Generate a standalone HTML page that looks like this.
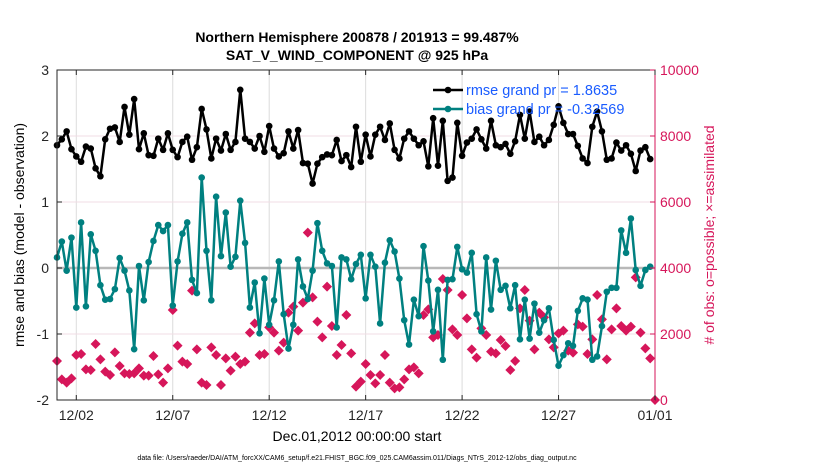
<!DOCTYPE html>
<html><head><meta charset="utf-8"><style>
html,body{margin:0;padding:0;background:#fff;}
svg{display:block;font-family:"Liberation Sans",Arial,sans-serif;}
</style></head><body>
<svg id="chart" width="830" height="470" viewBox="0 0 830 470" xmlns="http://www.w3.org/2000/svg">
<text x="357" y="42" text-anchor="middle" font-size="14" font-weight="bold">Northern Hemisphere 200878 / 201913 = 99.487%</text>
<text x="357" y="60" text-anchor="middle" font-size="14" font-weight="bold">SAT_V_WIND_COMPONENT @ 925 hPa</text>
<text x="357" y="441" text-anchor="middle" font-size="14">Dec.01,2012 00:00:00 start</text>
<text x="357" y="460" text-anchor="middle" font-size="7">data file: /Users/raeder/DAI/ATM_forcXX/CAM6_setup/f.e21.FHIST_BGC.f09_025.CAM6assim.011/Diags_NTrS_2012-12/obs_diag_output.nc</text>
<text transform="translate(24,235) rotate(-90)" text-anchor="middle" font-size="14">rmse and bias (model - observation)</text>
<text transform="translate(714,235) rotate(-90)" text-anchor="middle" font-size="14" fill="#d6165a"># of obs: o=possible; ×=assimilated</text>
<g id="grid"></g><g id="marks"></g><g id="axes"></g>
</svg>
<script>
const rmse=[1.86,1.95,2.07,1.80,1.69,1.61,1.84,1.81,1.51,1.39,1.95,2.11,2.13,1.91,2.44,2.02,2.56,1.80,2.04,1.71,1.70,1.96,1.79,2.04,1.79,1.68,1.91,1.99,1.64,1.83,2.41,2.10,1.66,1.96,1.78,2.03,1.79,1.91,2.70,1.96,1.91,1.81,2.00,1.76,2.15,1.81,1.69,1.74,2.07,1.81,2.09,1.59,1.58,1.28,1.58,1.68,1.72,1.71,1.94,1.62,1.71,1.53,2.14,
1.61,2.02,1.69,2.02,2.14,1.94,2.19,1.79,1.66,1.96,2.07,1.96,1.86,1.92,1.54,2.27,1.55,2.23,1.32,1.37,2.20,1.70,1.90,1.96,2.10,1.95,1.81,2.23,1.86,1.83,1.88,1.73,1.92,2.32,1.96,2.37,1.91,1.99,1.86,1.94,2.17,2.45,2.20,2.03,2.03,1.85,1.66,1.59,2.14,2.37,2.07,1.64,1.66,1.90,1.78,1.86,1.73,1.47,1.78,1.83,1.65];
const bias=[0.16,0.40,-0.04,0.46,-0.60,0.69,-0.58,0.51,0.26,-0.26,-0.48,-0.47,-0.32,0.15,-0.04,-0.34,-1.23,0.03,-0.49,0.09,0.41,0.65,0.56,0.65,-0.57,0.10,0.52,0.69,-0.18,-0.38,1.37,0.26,-0.49,1.08,0.18,0.84,0.02,0.17,1.02,0.38,-0.60,-0.22,-0.99,-0.16,-0.86,-0.49,0.10,-0.70,-1.22,-0.86,0.13,-0.28,-0.47,-0.04,0.68,0.26,0.07,0.03,-0.90,0.16,0.13,-0.17,0.06,
0.20,-0.46,0.20,0.02,-0.84,0.08,0.42,0.25,-0.16,-0.79,-1.16,-0.48,-0.73,0.33,-0.19,-0.96,-0.33,-1.39,-0.18,-0.17,0.32,-0.02,-0.07,0.23,-0.70,-0.96,0.16,-0.63,0.11,-0.33,-0.27,-0.61,-0.26,-1.08,-0.48,-1.07,-0.54,-0.98,-0.79,-0.61,-1.09,-1.48,-1.32,-1.14,-1.18,-0.65,-0.46,-0.48,-1.39,-1.34,-0.88,-0.36,-0.30,-0.30,0.57,0.23,0.75,-0.03,-0.27,-0.03,0.02];
const nobs=[1182,626,525,657,1364,1394,929,909,1697,1232,859,758,1444,1030,808,788,808,960,737,737,1333,778,525,960,2727,1646,1162,1091,3313,1535,525,455,1596,1364,455,1263,889,1313,1091,1162,2040,2323,1364,1394,2202,2040,1495,1737,2646,2828,2101,2949,5071,3111,2374,1899,3434,2242,1364,1667,2576,1414,404,
556,1091,758,505,758,1364,525,354,384,626,929,990,808,2576,2747,1899,1970,3667,3333,2141,1970,3182,2475,1535,1283,2172,1970,1465,1414,1818,1636,909,1182,2778,3333,2404,1535,2646,2505,1838,1596,2020,2101,1495,1434,2293,2222,1394,1838,3182,2444,1232,2141,2778,2242,2101,2222,3717,2040,1566,1263,0];
const leftTicks=[3,2,1,0,-1,-2];
const rightTicks=[0,2000,4000,6000,8000,10000];
const dateTicks=[1,6,11,16,21,26,31];
const dateLabels=["12/02","12/07","12/12","12/17","12/22","12/27","01/01"];
const legendLabels=["rmse grand pr = 1.8635","bias grand pr = -0.32569"];

const L=57,R=655,T=70,B=400,NS="http://www.w3.org/2000/svg";
const xDay=d=>L+d*(R-L)/31;
const xIdx=i=>xDay(i/4);
const yL=v=>T+(3-v)*(B-T)/5;
const yR=v=>B-v*(B-T)/10000;
function mk(tag,attrs,parent){const e=document.createElementNS(NS,tag);for(const k in attrs)e.setAttribute(k,attrs[k]);parent.appendChild(e);return e;}
const grid=document.getElementById('grid'),marks=document.getElementById('marks'),axes=document.getElementById('axes');
// grid
dateTicks.forEach(d=>{const g=mk('line',{x1:xDay(d),x2:xDay(d),y1:T,y2:B,stroke:'#dcdcdc','stroke-width':1},grid);

});
rightTicks.forEach(v=>{if(v>0&&v<10000){const g=mk('line',{x1:L,x2:R,y1:yR(v),y2:yR(v),stroke:'#f0dde4','stroke-width':1},grid);

}});
const zl=mk('line',{x1:L,x2:R,y1:yL(0),y2:yL(0),stroke:'#b8b8b8','stroke-width':2.5},grid);


// obs markers
nobs.forEach((v,i)=>{const x=xIdx(i),y=yR(v),s=5;
const p=mk('path',{d:`M${x} ${y-s}L${x+s} ${y}L${x} ${y+s}L${x-s} ${y}Z`,fill:'#d6165a'},marks);

});
function series(vals,color,name){
const pts=vals.map((v,i)=>xIdx(i).toFixed(1)+','+yL(v).toFixed(1)).join(' ');
const pl=mk('polyline',{points:pts,fill:'none',stroke:color,'stroke-width':2.5,'stroke-linejoin':'round'},marks);


vals.forEach((v,i)=>{const c=mk('circle',{cx:xIdx(i),cy:yL(v),r:3.3,fill:color},marks);

});}
series(bias,'#008080','bias');
series(rmse,'#000000','rmse');
// axes box
const box=mk('rect',{x:L,y:T,width:R-L,height:B-T,fill:'none',stroke:'#262626','stroke-width':1},axes);


const ra=mk('line',{x1:R,x2:R,y1:T,y2:B,stroke:'#d6165a','stroke-width':1},axes);


leftTicks.forEach(v=>{mk('line',{x1:L,x2:L+5,y1:yL(v),y2:yL(v),stroke:'#262626'},axes);
const t=mk('text',{x:L-8,y:yL(v)+5,'text-anchor':'end','font-size':14,fill:'#262626'},axes);t.textContent=v;

});
rightTicks.forEach(v=>{mk('line',{x1:R-5,x2:R,y1:yR(v),y2:yR(v),stroke:'#d6165a'},axes);
const t=mk('text',{x:R+5,y:yR(v)+5,'font-size':14,fill:'#d6165a'},axes);t.textContent=v;

});
dateTicks.forEach((d,k)=>{mk('line',{x1:xDay(d),x2:xDay(d),y1:B,y2:B-5,stroke:'#262626'},axes);
mk('line',{x1:xDay(d),x2:xDay(d),y1:T,y2:T+5,stroke:'#262626'},axes);
const t=mk('text',{x:xDay(d),y:B+20,'text-anchor':'middle','font-size':14,fill:'#262626'},axes);t.textContent=dateLabels[k];

});
// legend
[['#000000',90],['#008080',109]].forEach((c,k)=>{
const g=mk('g',{},axes);


mk('line',{x1:433,x2:463,y1:c[1],y2:c[1],stroke:c[0],'stroke-width':2.5},g);
mk('circle',{cx:448,cy:c[1],r:3.3,fill:c[0]},g);
const t=mk('text',{x:466,y:c[1]+5,'font-size':14.5,fill:'#1a5cff'},g);t.textContent=legendLabels[k];});
</script>
</body></html>
